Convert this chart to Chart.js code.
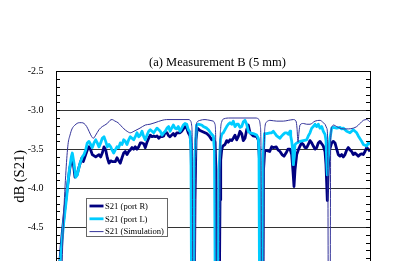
<!DOCTYPE html>
<html>
<head>
<meta charset="utf-8">
<script src="https://cdn.jsdelivr.net/npm/chart.js@4/dist/chart.umd.min.js"></script>
<style>
html,body{margin:0;padding:0;overflow:hidden;background:#fff;width:408px;height:261px;}
canvas{display:block;}
</style>
</head>
<body>
<canvas id="c" width="435" height="300" style="width:435px;height:300px"></canvas>
<script>
// ---- data (x = point along the frequency sweep, y = dB(S21)) ----
const chartTitle = '(a) Measurement B (5 mm)';
const yTitle = 'dB (S21)';
const seriesNames = ['S21 (port R)', 'S21 (port L)', 'S21 (Simulation)'];
const yTicks = [-2.5, -3.0, -3.5, -4.0, -4.5, -5.0];

const portRFreq = [1,4,6.3,8.7,11.3,14,16.3,17.5,19,21,23,24.7,26,27.3,29.7,31.3,33,34.7,36.3,39.7,43,44.7,46.3,48,49.7,51.3,53,54.7,56.3,59.3,61,62.7,64.3,66,67.7,69.3,71,72.7,74.3,76,77.7,79.3,81,82.7,84.3,86,87.7,89.3,91,92.7,94.3,96,97.7,99.3,101,102.7,104.3,106,107.7,109.3,111,112.7,114,117.3,119,120.7,122.3,124,125.7,127.3,129,130.7,132.3,134,135,136,137,138,139,140,141.3,144,147.3,150.7,153.3,155.7,157.3,159,160,161,163,164,164.7,165.7,166.7,169,170.7,172.3,174,175.7,177.3,179,180.7,182.3,184,185.7,187.3,189,190.7,192.3,194,197.3,200.7,202.3,203.5,204.5,206.5,207.5,208.7,211,213.7,215.7,217.3,220.3,222,224,226,228,230,232,234,235.7,237,238,239,240.7,242.3,244,245.7,247.3,249,250.7,252.3,254,255.7,257.3,259,260.7,262.3,264,265.7,267.3,269,270,271.3,272.3,273.3,274.7,275.7,277.3,279,280.7,282.3,284,285.7,287.3,289,290.7,292.3,294,295.7,297.3,299,300.7,302.3,304,305.7,307.3,309,310.7,312.3,314];
const portRdB = [-5.3,-4.92,-4.57,-4.28,-3.99,-3.73,-3.61,-3.70,-3.86,-3.83,-3.73,-3.66,-3.61,-3.66,-3.57,-3.51,-3.47,-3.51,-3.57,-3.60,-3.57,-3.60,-3.55,-3.47,-3.51,-3.61,-3.68,-3.65,-3.66,-3.66,-3.61,-3.65,-3.68,-3.61,-3.55,-3.53,-3.57,-3.53,-3.51,-3.48,-3.50,-3.47,-3.50,-3.47,-3.42,-3.42,-3.43,-3.48,-3.41,-3.36,-3.32,-3.34,-3.33,-3.34,-3.33,-3.36,-3.34,-3.34,-3.33,-3.28,-3.29,-3.33,-3.34,-3.30,-3.33,-3.29,-3.29,-3.29,-3.27,-3.24,-3.21,-3.23,-3.29,-3.33,-3.44,-4.15,-6,-6,-4.15,-3.38,-3.23,-3.26,-3.28,-3.30,-3.33,-3.38,-3.36,-3.41,-3.77,-6,-6,-4.15,-3.64,-3.51,-3.46,-3.44,-3.39,-3.41,-3.38,-3.39,-3.36,-3.32,-3.38,-3.34,-3.27,-3.30,-3.39,-3.36,-3.25,-3.19,-3.29,-3.33,-3.34,-3.38,-3.64,-6,-6,-3.77,-3.52,-3.52,-3.53,-3.47,-3.48,-3.47,-3.51,-3.53,-3.57,-3.59,-3.55,-3.50,-3.50,-3.57,-3.79,-3.98,-3.77,-3.57,-3.51,-3.46,-3.42,-3.44,-3.48,-3.48,-3.44,-3.39,-3.42,-3.46,-3.50,-3.48,-3.42,-3.40,-3.43,-3.46,-3.53,-3.70,-4.16,-3.74,-3.52,-3.46,-3.42,-3.40,-3.42,-3.50,-3.57,-3.59,-3.57,-3.60,-3.57,-3.51,-3.48,-3.51,-3.53,-3.57,-3.55,-3.57,-3.59,-3.57,-3.56,-3.57,-3.53,-3.48,-3.50,-3.53];

const portLFreq = [1,4.7,7.5,10.7,13,15.3,16.3,18,19.7,21.3,24,26.3,28,29.7,31.3,33,34.7,36.3,38,39.7,41.3,43,44.7,46.3,48,49.7,51.3,53,54.7,56,57.7,59.3,61,62.7,64.3,66,67.7,69.3,71,72.7,74.3,76,77.7,79.3,81,82.7,84.3,86,87.7,89.3,91,92.7,94.3,96,97.7,99.3,101,102.7,104.3,106,107.7,109.3,111,112.7,114,115.7,117.3,119,120.7,122.3,124,125.7,127.3,129,130.7,132.3,134,135,135.7,137.7,138.7,140.5,142.3,145.7,147.3,150.7,152.3,154,155.7,157.3,158.5,159.5,162,163,164.5,165.7,167.3,169,170.7,172.3,174,175.7,177.3,179,180.7,182.3,184,185.7,187.3,189,190.7,192.3,194,197.3,200.7,202.3,203,203.7,206,207,208.5,210.7,214,215.7,217.3,220.7,224,225.7,227.3,229,230.7,232.3,234,234.7,235.7,236.7,237.3,238.3,239,240.7,244,247.3,250.7,252.3,254,255.7,257.3,259,260.7,262.3,264,265.7,267.3,269,270,270.7,271.3,272,274,275.7,277.3,280.7,284,285.7,287.3,290.7,294,297.3,299,300.7,302.3,305.7,307.3,310.7,312.3,314];
const portLdB = [-5.24,-4.88,-4.47,-4.11,-3.80,-3.60,-3.55,-3.68,-3.86,-3.83,-3.68,-3.60,-3.57,-3.51,-3.42,-3.40,-3.44,-3.48,-3.42,-3.38,-3.42,-3.47,-3.42,-3.36,-3.34,-3.40,-3.47,-3.44,-3.47,-3.51,-3.55,-3.51,-3.47,-3.48,-3.42,-3.44,-3.38,-3.40,-3.44,-3.38,-3.34,-3.36,-3.38,-3.34,-3.29,-3.34,-3.32,-3.27,-3.34,-3.38,-3.32,-3.27,-3.25,-3.27,-3.29,-3.26,-3.23,-3.25,-3.27,-3.32,-3.29,-3.27,-3.23,-3.21,-3.27,-3.23,-3.19,-3.23,-3.24,-3.21,-3.27,-3.23,-3.19,-3.17,-3.18,-3.25,-3.28,-3.51,-6,-6,-3.64,-3.19,-3.18,-3.19,-3.21,-3.23,-3.25,-3.28,-3.31,-3.33,-3.51,-6,-6,-3.77,-3.38,-3.31,-3.29,-3.25,-3.21,-3.18,-3.16,-3.18,-3.14,-3.21,-3.18,-3.18,-3.22,-3.21,-3.15,-3.13,-3.18,-3.27,-3.29,-3.30,-3.32,-3.36,-3.51,-6,-6,-3.64,-3.30,-3.30,-3.29,-3.29,-3.27,-3.33,-3.36,-3.33,-3.31,-3.29,-3.29,-3.31,-3.27,-3.33,-3.40,-3.51,-3.70,-3.60,-3.44,-3.42,-3.40,-3.39,-3.38,-3.33,-3.29,-3.23,-3.21,-3.18,-3.21,-3.18,-3.23,-3.21,-3.27,-3.31,-3.39,-3.64,-3.83,-3.64,-3.36,-3.23,-3.22,-3.23,-3.22,-3.24,-3.23,-3.27,-3.29,-3.25,-3.27,-3.29,-3.33,-3.40,-3.44,-3.46,-3.42,-3.44];

const simFreq = [4,7.5,10,12,14,16,19,23.3,25.7,28,30.7,33,35.7,37.3,39.7,43,46.3,51.3,54,56,59,62,65,68,71,74.3,78,84,89.3,94,99,106,110.7,116,122,129,133,134.7,135.7,136.3,137,139,139.7,140.3,141.3,144,149,154,157.3,159,159.7,160.5,163,164,164.7,165.7,168,174,184,194,200,203,204.3,205,205.7,207.5,208.3,209,210.7,214,220.7,227.3,232.3,237.3,240,241,242,243,244,247.3,250.7,254,259,264,267.3,269,270.7,271.7,272.5,274,274.7,276,277.3,280.7,284,287.3,292.3,297.3,300.7,304,307.3,310.7,314];
const simdB = [-6,-4.41,-3.77,-3.44,-3.32,-3.24,-3.19,-3.16,-3.16,-3.17,-3.21,-3.27,-3.34,-3.36,-3.32,-3.25,-3.21,-3.17,-3.13,-3.12,-3.14,-3.16,-3.20,-3.24,-3.27,-3.29,-3.27,-3.23,-3.19,-3.18,-3.16,-3.13,-3.12,-3.12,-3.12,-3.12,-3.12,-3.14,-3.20,-3.51,-6,-6,-3.51,-3.20,-3.15,-3.13,-3.12,-3.13,-3.14,-3.18,-3.38,-6,-6,-3.51,-3.23,-3.15,-3.11,-3.10,-3.10,-3.10,-3.10,-3.12,-3.20,-3.51,-6,-6,-3.51,-3.21,-3.15,-3.13,-3.14,-3.14,-3.13,-3.12,-3.14,-3.23,-3.41,-3.28,-3.19,-3.17,-3.18,-3.18,-3.14,-3.13,-3.16,-3.18,-3.23,-3.38,-6,-6,-3.38,-3.21,-3.19,-3.21,-3.23,-3.24,-3.24,-3.23,-3.21,-3.17,-3.13,-3.12,-3.15];

const seriesColors = ['#000080', '#00CCFF', '#333399'];
const seriesWidths = [2.8, 2.8, 1];

const toPoints = (xs, ys) => xs.map((x, i) => ({x: x, y: ys[i]}));

const SERIF = '"Liberation Serif", "Times New Roman", Times, serif';
Chart.defaults.font.family = SERIF;
Chart.defaults.color = '#000';

const framePlugin = {
  id: 'frame',
  afterDatasetsDraw(chart) {
    const {ctx, chartArea: a, scales: {y}} = chart;
    ctx.save();
    ctx.strokeStyle = '#000';
    ctx.lineWidth = 1;
    // minor ticks every 0.1 dB, inside on both sides
    for (let i = 25; i <= 60; i++) {
      const v = -i / 10;
      if (v < y.min) break;
      const py = Math.round(y.getPixelForValue(v)) + 0.5;
      ctx.beginPath();
      ctx.moveTo(a.left, py); ctx.lineTo(a.left + 4, py);
      ctx.moveTo(a.right - 4, py); ctx.lineTo(a.right, py);
      ctx.stroke();
    }
    ctx.strokeRect(Math.round(a.left) + 0.5, Math.round(a.top) + 0.5,
                   Math.round(a.right - a.left), Math.round(a.bottom - a.top));
    // legend box
    const bx = Math.round(a.left + 30) + 0.5, by = Math.round(a.top + 127) + 0.5;
    const bw = 81, bh = 38;
    ctx.fillStyle = '#fff';
    ctx.fillRect(bx, by, bw, bh);
    ctx.strokeStyle = '#666';
    ctx.strokeRect(bx, by, bw, bh);
    ctx.font = '8.6px ' + SERIF;
    ctx.textBaseline = 'middle';
    ctx.textAlign = 'left';
    chart.data.datasets.forEach((ds, i) => {
      const ry = by + 7.5 + i * 12.8;
      ctx.strokeStyle = ds.borderColor;
      ctx.lineWidth = ds.borderWidth;
      ctx.beginPath();
      ctx.moveTo(bx + 3, ry); ctx.lineTo(bx + 17, ry);
      ctx.stroke();
      ctx.fillStyle = '#000';
      ctx.fillText(ds.label, bx + 18.5, ry + 0.5);
    });
    ctx.restore();
  }
};

const datasets = [
  {label: seriesNames[0], data: toPoints(portRFreq, portRdB), order: 2},
  {label: seriesNames[1], data: toPoints(portLFreq, portLdB), order: 1},
  {label: seriesNames[2], data: toPoints(simFreq, simdB), order: 0, cubicInterpolationMode: 'monotone'}
].map((d, i) => Object.assign(d, {
  borderColor: seriesColors[i], backgroundColor: seriesColors[i],
  borderWidth: seriesWidths[i], pointRadius: 0, fill: false, tension: 0,
  borderJoinStyle: 'round'
}));

new Chart(document.getElementById('c'), {
  type: 'line',
  data: {datasets},
  plugins: [framePlugin],
  options: {
    responsive: false,
    animation: false,
    devicePixelRatio: 1,
    layout: {padding: {left: 0, right: 0, top: 0, bottom: 18.1}},
    plugins: {
      legend: {display: false},
      tooltip: {enabled: false},
      title: {
        display: true, text: chartTitle, color: '#000',
        font: {family: SERIF, size: 12.5, weight: 'normal', lineHeight: 1.2},
        padding: {top: 55.2, bottom: 1.1}
      }
    },
    scales: {
      x: {type: 'linear', min: 0, max: 314, display: false},
      y: {
        type: 'linear', position: 'left', min: -5.2, max: -2.5,
        afterFit(s) { s.width = 56; },
        afterBuildTicks(s) { s.ticks = yTicks.map(v => ({value: v})); },
        ticks: {
          callback: v => v.toFixed(1), padding: 12.5,
          font: {family: SERIF, size: 10}, color: '#000'
        },
        grid: {color: '#333', lineWidth: 1, drawTicks: false},
        border: {color: '#000', width: 1},
        title: {
          display: true, text: yTitle, color: '#000',
          font: {family: SERIF, size: 14.5}, padding: {top: 11.3, bottom: 0}
        }
      },
      yRight: {
        type: 'linear', position: 'right', min: -5.2, max: -2.5,
        afterFit(s) { s.width = 65; },
        ticks: {display: false},
        grid: {display: false, drawTicks: false},
        border: {display: false}
      }
    }
  }
});
</script>
</body>
</html>
